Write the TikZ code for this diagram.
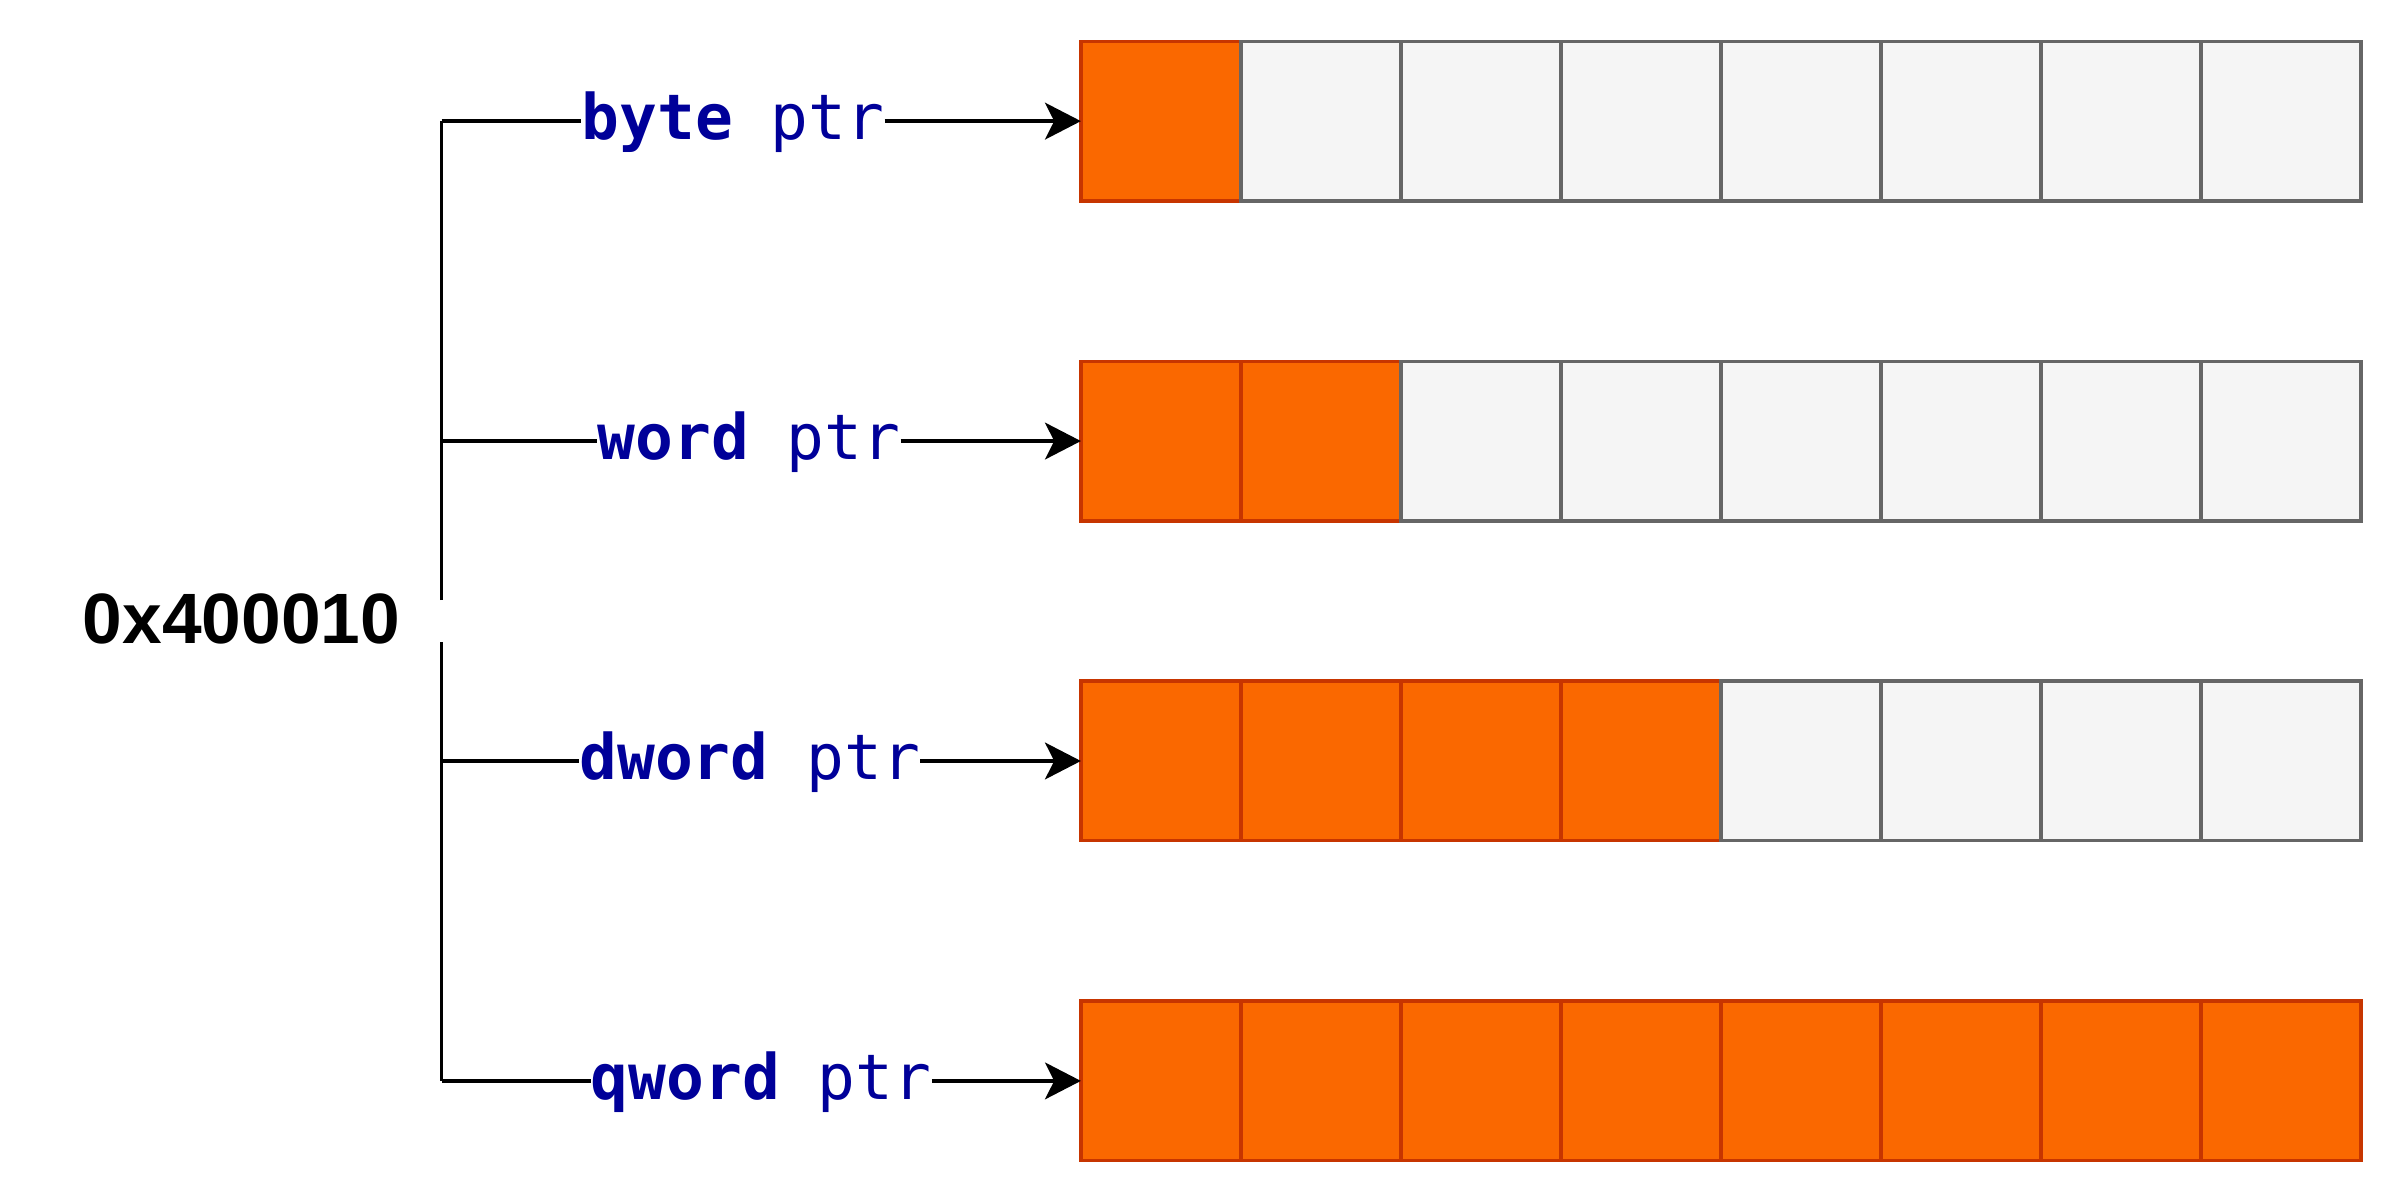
\documentclass[tikz,border=0pt]{standalone}
\usepackage{fontspec}
\setmainfont{Liberation Sans}
\newfontfamily\codefont{DejaVu Sans Mono}
\usetikzlibrary{arrows.meta}
\definecolor{cellon}{HTML}{FA6800}
\definecolor{cellonedge}{HTML}{C73500}
\definecolor{celloff}{HTML}{F5F5F5}
\definecolor{celloffedge}{HTML}{666666}
\definecolor{kw}{HTML}{000099}
\begin{document}
\begin{tikzpicture}[x=1pt,y=-1pt,
  cell/.style={minimum width=104.375pt, minimum height=104pt, inner sep=0pt,
    outer sep=0pt, line width=2.3pt, anchor=north west},
  on/.style={cell, fill=cellon, draw=cellonedge},
  off/.style={cell, fill=celloff, draw=celloffedge},
  ptrlabel/.style={font=\codefont\fontsize{41}{41}\selectfont, text=kw,
    inner sep=0pt, anchor=base},
  addrlabel/.style={font=\bfseries\fontsize{46.5}{46.5}\selectfont,
    inner sep=0pt, anchor=base},
  wire/.style={line width=2.3pt, black},
  ptrarrow/.style={wire, -{Stealth[length=23.4pt,width=24pt,inset=6pt]}}]

\useasboundingbox (0,0) rectangle (1568,785);

% address and the bracket that fans out from it
\node[addrlabel] (addr) at (157.5,419.6) {0x400010};
\coordinate (gapA) at (288,391.5);
\coordinate (gapB) at (288,419);
\coordinate (j1) at (288,79);
\coordinate (j4) at (288,705);
\draw[wire] (gapA) -- (j1);
\draw[wire] (gapB) -- (j4);

\foreach \r/\n/\kwd/\lx in {1/1/byte/478, 2/2/word/488.5, 3/4/dword/489, 4/8/qword/496.5}{
  \pgfmathsetmacro{\ymid}{79+(\r-1)*208.67}
  \pgfmathsetmacro{\ytop}{\ymid-52}
  % memory cells of this row
  \foreach \c in {1,...,8}{
    \pgfmathsetmacro{\xc}{705+(\c-1)*104.375}
    \ifnum\c>\n \def\st{off}\else\def\st{on}\fi
    \node[\st] (r\r c\c) at (\xc,\ytop) {};
  }
  % pointer-size label on the connector
  \coordinate (j\r) at (288,\ymid);
  \node[ptrlabel] (lbl\r) at (\lx,\ymid+12) {\textbf{\kwd} ptr};
  \draw[wire] (j\r) -- (lbl\r.west |- j\r);
  \draw[ptrarrow] (lbl\r.east |- j\r) -- (r\r c1.west);
}
\end{tikzpicture}
\end{document}
